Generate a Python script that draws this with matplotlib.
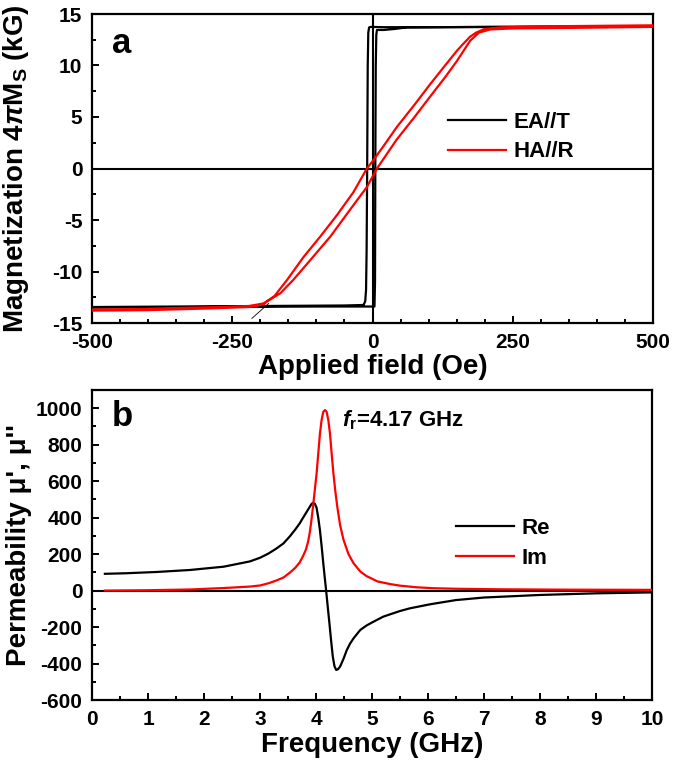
import matplotlib
matplotlib.use("Agg")
import matplotlib.pyplot as plt
from matplotlib.ticker import MultipleLocator

plt.rcParams['font.family'] = ['Liberation Sans', 'DejaVu Sans']
plt.rcParams['font.weight'] = 'bold'
plt.rcParams['axes.unicode_minus'] = False
plt.rcParams['mathtext.fontset'] = 'custom'
plt.rcParams['mathtext.rm'] = 'Liberation Sans:bold'
plt.rcParams['mathtext.it'] = 'Liberation Sans:italic:bold'
plt.rcParams['mathtext.bf'] = 'Liberation Sans:bold'

# ---------------- Panel a: hysteresis loops ----------------
ea_field = [500, 300, 100, 20, -3, -6, -7.5, -8.5, -9.5, -10.5, -11.5, -13, -16, -50, -200, -350, -500,
            -500, -300, -100, 0, 3.5, 4.5, 5, 5.8, 6.8, 8, 20, 40, 61, 200, 500]
ea_mag = [13.75, 13.75, 13.72, 13.72, 13.75, 13.7, 13.2, 10, 0, -8, -11.8, -12.9, -13.25, -13.3, -13.35, -13.4, -13.45,
          -13.5, -13.45, -13.4, -13.4, -13.4, -11, 0, 10, 13.0, 13.45, 13.45, 13.55, 13.7, 13.75, 13.8]

ha_field = [500, 400, 300, 230, 200, 185, 174, 160, 150, 125, 103, 75, 43, 20, 0, -10, -34, -63, -93, -123, -152,
            -175, -194, -220, -270, -350, -420, -500,
            -500, -400, -300, -220, -195, -188, -164, -141, -111, -75, -40, -10, 8, 43, 75, 103, 130, 150, 174,
            190, 210, 250, 350, 500]
ha_mag = [13.9, 13.85, 13.8, 13.7, 13.55, 13.2, 12.8, 12.0, 11.4, 9.7, 8.2, 6.2, 4.0, 2.2, 0.7, 0.0, -2.3, -4.5, -6.6,
          -8.6, -10.8, -12.4, -13.1, -13.35, -13.45, -13.55, -13.65, -13.7,
          -13.8, -13.75, -13.6, -13.45, -13.2, -12.9, -12.1, -10.8, -8.9, -6.6, -4.0, -1.8, 0.0, 2.8, 5.0, 7.0,
          8.9, 10.4, 12.4, 13.2, 13.5, 13.6, 13.65, 13.75]

tangent_field = [-215, -185]
tangent_mag = [-14.55, -13.1]

# ---------------- Panel b: permeability spectra ----------------
re_freq = [0.23, 0.6, 1.15, 1.75, 2.35, 2.82, 3.0, 3.15, 3.29, 3.42, 3.54, 3.63, 3.71, 3.77, 3.82, 3.86, 3.89,
           3.92, 3.95, 3.98, 4.01, 4.04, 4.07, 4.10, 4.13, 4.155, 4.18, 4.21, 4.24, 4.27, 4.30, 4.33, 4.36,
           4.39, 4.43, 4.49, 4.55, 4.61, 4.67, 4.79, 4.9, 5.0, 5.2, 5.5, 5.68, 6.04, 6.5, 7.0, 8.0, 9.0, 10.0]
re_mu = [92, 95, 102, 113, 131, 160, 180, 203, 230, 259, 300, 335, 369, 400, 425, 445, 460,
         475, 482, 475, 455, 400, 332, 245, 150, 75, 3, -90, -180, -275, -362, -415, -435,
         -432, -417, -375, -326, -290, -262, -216, -192, -175, -143, -112, -97, -75, -52, -38, -24, -15, -10]

im_freq = [0.23, 1.0, 1.75, 2.35, 2.82, 3.0, 3.15, 3.29, 3.42, 3.54, 3.63, 3.71, 3.77, 3.82, 3.86, 3.89, 3.92,
           3.95, 3.98, 4.01, 4.04, 4.07, 4.10, 4.13, 4.16, 4.19, 4.22, 4.25, 4.28, 4.31, 4.345, 4.38, 4.43,
           4.49, 4.58, 4.67, 4.79, 4.9, 5.1, 5.32, 5.5, 5.8, 6.1, 6.5, 7.3, 8.5, 10.0]
im_mu = [0, 2, 6, 14, 22, 28, 40, 55, 72, 100, 125, 155, 190, 225, 270, 320, 390,
         470, 555, 640, 750, 860, 935, 980, 990, 980, 935, 860, 750, 645, 545, 460, 360,
         280, 200, 150, 105, 80, 50, 36, 27, 18, 13, 10, 7, 5, 4]

fig = plt.figure(figsize=(6.75, 7.7), dpi=100)
axa = fig.add_axes([92/675, 1-323/770, 561/675, 309/770])
axb = fig.add_axes([92/675, 1-700/770, 560/675, 310/770])

TICKFS = 15
LABFS = 20

def style(ax):
    for s in ax.spines.values():
        s.set_linewidth(1.6)
    ax.tick_params(which='both', direction='in', top=False, right=False,
                   labelsize=TICKFS, width=1.4, pad=7)
    ax.tick_params(which='major', length=5)
    ax.tick_params(which='minor', length=3)
    for lab in ax.get_xticklabels() + ax.get_yticklabels():
        lab.set_fontweight('bold')

# Panel a
axa.axhline(0, color='black', lw=1.5, zorder=1)
axa.axvline(0, color='black', lw=1.5, zorder=1)
axa.plot(ea_field, ea_mag, color='black', lw=1.6, label='EA//T', zorder=2)
axa.plot(ha_field, ha_mag, color='#ff0000', lw=1.6, label='HA//R', zorder=3)
axa.plot(tangent_field, tangent_mag, color='black', lw=0.6, zorder=2)
axa.set_xlim(-500, 500)
axa.set_ylim(-15, 15)
axa.xaxis.set_major_locator(MultipleLocator(250))
axa.xaxis.set_minor_locator(MultipleLocator(50))
axa.yaxis.set_major_locator(MultipleLocator(5))
axa.yaxis.set_minor_locator(MultipleLocator(2.5))
style(axa)
axa.set_xlabel('Applied field (Oe)', fontsize=LABFS, fontweight='bold', labelpad=2)
axa.set_ylabel(r'Magnetization 4$\pi$M$_\mathrm{S}$ (kG)', fontsize=LABFS, fontweight='bold')
axa.yaxis.set_label_coords(-0.108, 0.5)
axa.text(0.036, 0.906, 'a', transform=axa.transAxes, fontsize=25, fontweight='bold',
         ha='left', va='center')
axa.legend(loc='center left', bbox_to_anchor=(0.6346, 0.602), frameon=False,
           handlelength=2.6, handletextpad=0.35, labelspacing=0.4,
           borderpad=0, borderaxespad=0, prop={'weight': 'bold', 'size': 16})

# Panel b
axb.axhline(0, color='black', lw=1.5, zorder=1)
axb.plot(re_freq, re_mu, color='black', lw=1.6, label='Re', zorder=2)
axb.plot(im_freq, im_mu, color='#ff0000', lw=1.6, label='Im', zorder=3)
axb.set_xlim(0, 10)
axb.set_ylim(-600, 1100)
axb.xaxis.set_major_locator(MultipleLocator(1))
axb.xaxis.set_minor_locator(MultipleLocator(0.5))
axb.yaxis.set_minor_locator(MultipleLocator(100))
axb.set_yticks([-600, -400, -200, 0, 200, 400, 600, 800, 1000])
style(axb)
axb.set_xlabel('Frequency (GHz)', fontsize=LABFS, fontweight='bold', labelpad=2)
axb.set_ylabel("Permeability \u03bc', \u03bc''", fontsize=LABFS, fontweight='bold')
axb.yaxis.set_label_coords(-0.108, 0.5)
axb.text(0.036, 0.913, 'b', transform=axb.transAxes, fontsize=25, fontweight='bold',
         ha='left', va='center')
axb.text(0.446, 0.903, r'$f_\mathrm{r}$=4.17 GHz', transform=axb.transAxes, fontsize=16,
         fontweight='bold', ha='left', va='center')
axb.legend(loc='center left', bbox_to_anchor=(0.65, 0.506), frameon=False,
           handlelength=2.6, handletextpad=0.35, labelspacing=0.4,
           borderpad=0, borderaxespad=0, prop={'weight': 'bold', 'size': 16})

fig.savefig('out.png', dpi=100)
